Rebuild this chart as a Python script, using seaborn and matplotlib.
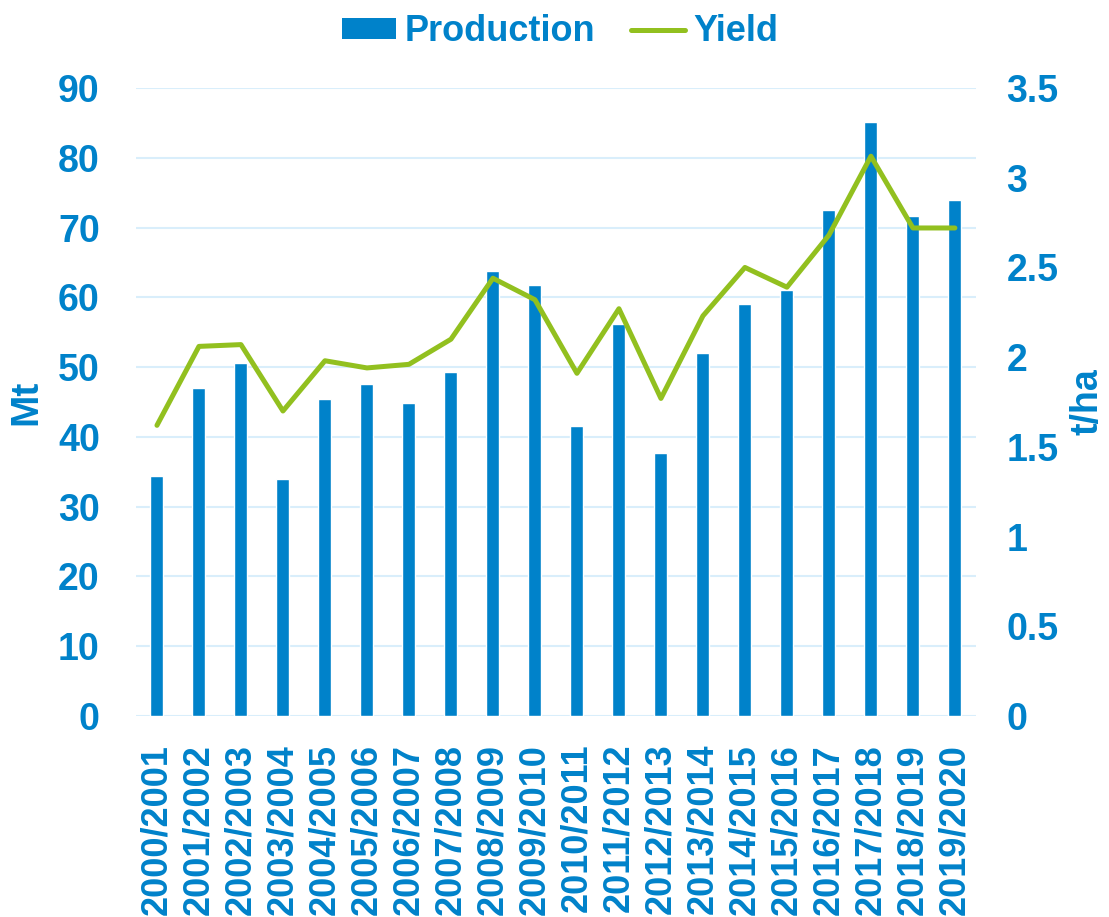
import numpy as np
import pandas as pd
import matplotlib.pyplot as plt
import seaborn as sns
from matplotlib.patches import Patch
from matplotlib.lines import Line2D

seasons = [f"{y}/{y + 1}" for y in range(2000, 2020)]
production = [34.4, 47.0, 50.6, 34.0, 45.4, 47.6, 44.9, 49.3, 63.8, 61.8,
              41.6, 56.2, 37.7, 52.0, 59.0, 61.0, 72.5, 85.1, 71.7, 73.9]
yield_t_ha = [1.62, 2.06, 2.07, 1.70, 1.98, 1.94, 1.96, 2.10, 2.44, 2.32,
              1.91, 2.27, 1.77, 2.23, 2.50, 2.39, 2.68, 3.12, 2.72, 2.72]

blue = "#0082CA"
green = "#92C01F"
grid_col = "#D9EEFB"

df = pd.DataFrame({"Season": seasons, "Production": production, "Yield": yield_t_ha})

sns.set_style("white")
plt.rcParams["font.family"] = ["Liberation Sans", "DejaVu Sans"]
plt.rcParams["font.weight"] = "bold"

fig = plt.figure(figsize=(11.09, 9.17), dpi=100)
ax = fig.add_axes([0.1226, 0.2192, 0.7574, 0.6848])

sns.barplot(data=df, x="Season", y="Production", color=blue, width=0.31,
            saturation=1, ax=ax, zorder=2)
ax.set_ylim(0, 90)
ax.set_yticks(range(0, 91, 10))
ax.set_xlim(-0.5, len(seasons) - 0.5)
ax.grid(axis="y", color=grid_col, linewidth=1.5, zorder=0)
ax.set_axisbelow(True)
for s in ax.spines.values():
    s.set_visible(False)
ax.tick_params(axis="both", length=0, labelcolor=blue)
ax.tick_params(axis="y", labelsize=27, pad=26)
ax.tick_params(axis="x", rotation=90, labelsize=26, pad=20)
ax.set_xlabel("")
ax.set_ylabel("Mt", color=blue, fontsize=28, fontweight="bold", labelpad=10)

ax2 = ax.twinx()
sns.lineplot(x=np.arange(len(seasons)), y=df["Yield"], color=green, linewidth=3.6,
             ax=ax2, zorder=3)
ax2.set_ylim(0, 3.5)
ax2.set_yticks([0, 0.5, 1, 1.5, 2, 2.5, 3, 3.5])
ax2.set_yticklabels(["0", "0.5", "1", "1.5", "2", "2.5", "3", "3.5"])
for s in ax2.spines.values():
    s.set_visible(False)
ax2.tick_params(axis="y", length=0, labelcolor=blue, labelsize=27, pad=22)
ax2.set_ylabel("t/ha", color=blue, fontsize=27, fontweight="bold", labelpad=8)
ax2.set_xlim(-0.5, len(seasons) - 0.5)

handles = [Patch(facecolor=blue, edgecolor="none"),
           Line2D([0], [0], color=green, linewidth=3.6, solid_capstyle="round")]
leg = fig.legend(handles, ["Production", "Yield"], loc="upper center",
                 bbox_to_anchor=(0.505, 1.02), ncol=2, frameon=False,
                 fontsize=26, handlelength=1.5, handleheight=0.5,
                 handletextpad=0.22, columnspacing=1.0)
for t in leg.get_texts():
    t.set_color(blue)
    t.set_fontweight("bold")

fig.savefig("out.png", dpi=100)
